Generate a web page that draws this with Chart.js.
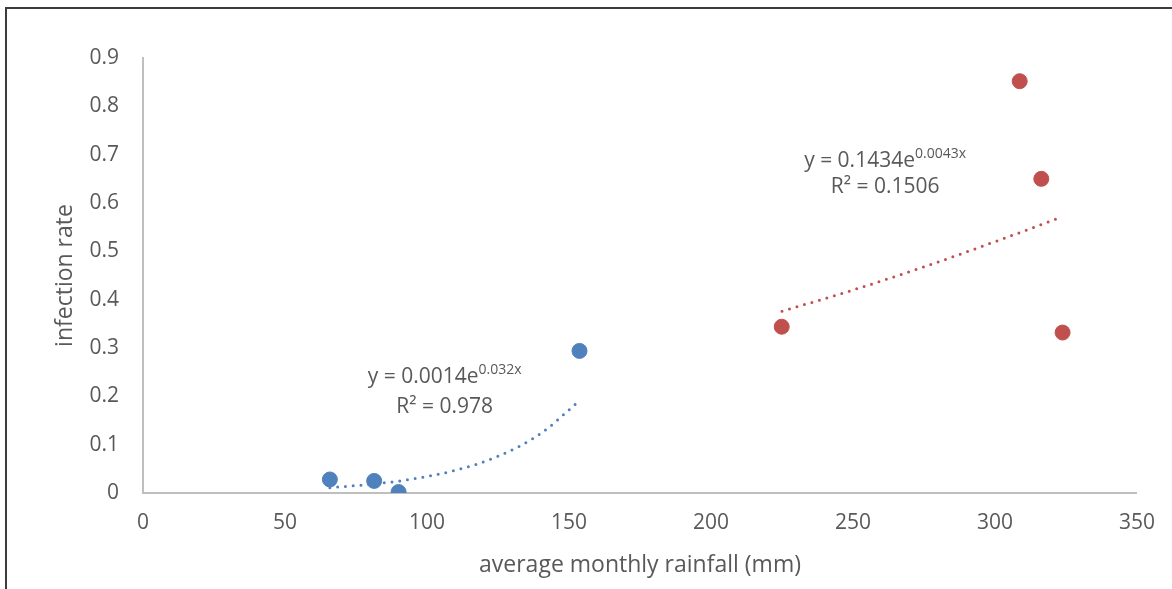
<!DOCTYPE html>
<html>
<head>
<meta charset="utf-8">
<script src="https://cdn.jsdelivr.net/npm/chart.js@4/dist/chart.umd.min.js"></script>
<style>
  html, body { margin: 0; padding: 0; background: #fff; overflow: hidden; }
  #wrap { position: relative; width: 1172px; height: 589px; }
  #frame {
    position: absolute; left: 5px; top: 7px; width: 1300px; height: 700px;
    border-left: 2px solid #3c3c3c; border-top: 2px solid #3c3c3c;
    pointer-events: none;
  }
</style>
</head>
<body>
<div id="wrap">
  <canvas id="rainChart" width="1172" height="589"></canvas>
  <div id="frame"></div>
</div>
<script>
// values
const blueRain = [65.8, 81.4, 90.0, 153.7];
const blueRate = [0.028, 0.025, 0.002, 0.294];
const redRain = [224.9, 308.7, 316.3, 323.8];
const redRate = [0.344, 0.852, 0.650, 0.332];

// dotted trendlines
const blueTrendX = [65.8, 80, 95, 110, 125, 140, 153.5];
const blueTrendY = [0.011, 0.018, 0.029, 0.047, 0.076, 0.123, 0.19];
const redTrendX = [225, 250, 275, 300, 322];
const redTrendY = [0.376, 0.42, 0.468, 0.52, 0.568];

// trendline labels
const blueFit = ['y = 0.0014e', '0.032x', 'R\u00b2 = 0.978'];
const redFit = ['y = 0.1434e', '0.0043x', 'R\u00b2 = 0.1506'];

const xTicks = [0, 50, 100, 150, 200, 250, 300, 350];
const yTicks = [0, 0.1, 0.2, 0.3, 0.4, 0.5, 0.6, 0.7, 0.8, 0.9];

const BLUE = '#4F81BD';
const RED = '#C0504D';
const TEXT = '#595959';

const toPoints = (xs, ys) => xs.map((x, i) => ({ x: x, y: ys[i] }));

Chart.defaults.font.family = '"Open Sans", "Noto Sans", sans-serif';
Chart.defaults.font.size = 21;
Chart.defaults.color = TEXT;

// draws the "y = a e^bx / R² = r" labels
const fitLabels = {
    id: 'fitLabels',
    afterDatasetsDraw(chart, args, opts) {
        const { ctx, scales: { x, y } } = chart;
        ctx.save();
        ctx.fillStyle = TEXT;
        ctx.textBaseline = 'middle';
        opts.items.forEach(item => {
            const cx = x.getPixelForValue(item.at[0]);
            const y1 = y.getPixelForValue(item.at[1]);
            const y2 = y.getPixelForValue(item.at[2]);
            ctx.font = '21px "Open Sans"';
            const wBase = ctx.measureText(item.text[0]).width;
            ctx.font = '14px "Open Sans"';
            const wSup = ctx.measureText(item.text[1]).width;
            const left = cx - (wBase + wSup) / 2;
            ctx.textAlign = 'left';
            ctx.font = '21px "Open Sans"';
            ctx.fillText(item.text[0], left, y1);
            ctx.font = '14px "Open Sans"';
            ctx.fillText(item.text[1], left + wBase, y1 - 7);
            ctx.font = '21px "Open Sans"';
            ctx.textAlign = 'center';
            ctx.fillText(item.text[2], cx, y2);
        });
        ctx.restore();
    }
};

const ctx = document.getElementById('rainChart').getContext('2d');
const chart = new Chart(ctx, {
    type: 'scatter',
    data: {
        datasets: [
            {
                label: 'low rainfall',
                data: toPoints(blueRain, blueRate),
                backgroundColor: BLUE,
                borderColor: BLUE,
                pointRadius: 7.5,
                order: 0
            },
            {
                label: 'high rainfall',
                data: toPoints(redRain, redRate),
                backgroundColor: RED,
                borderColor: RED,
                pointRadius: 7.5,
                order: 0
            },
            {
                label: 'Expon. (low rainfall)',
                data: toPoints(blueTrendX, blueTrendY),
                showLine: true,
                borderColor: BLUE,
                borderWidth: 3,
                borderDash: [0, 7.8],
                borderCapStyle: 'round',
                cubicInterpolationMode: 'monotone',
                pointRadius: 0,
                order: 1
            },
            {
                label: 'Expon. (high rainfall)',
                data: toPoints(redTrendX, redTrendY),
                showLine: true,
                borderColor: RED,
                borderWidth: 3,
                borderDash: [0, 7.8],
                borderCapStyle: 'round',
                cubicInterpolationMode: 'monotone',
                pointRadius: 0,
                order: 1
            }
        ]
    },
    options: {
        responsive: false,
        animation: false,
        layout: { padding: { left: 0, top: 58, right: 34, bottom: 0 } },
        plugins: {
            legend: { display: false },
            tooltip: { enabled: false },
            fitLabels: {
                items: [
                    { text: blueFit, at: [106.2, 0.24, 0.178] },
                    { text: redFit, at: [261.3, 0.687, 0.633] }
                ]
            }
        },
        scales: {
            x: {
                type: 'linear',
                min: 0,
                max: 350,
                afterBuildTicks: s => { s.ticks = xTicks.map(v => ({ value: v })); },
                afterFit: s => { s.height = 96; },
                ticks: { padding: 17, color: TEXT },
                grid: { display: false, drawTicks: false },
                border: { color: '#BFBFBF', width: 2 },
                title: {
                    display: true,
                    text: 'average monthly rainfall (mm)',
                    color: TEXT,
                    font: { size: 23 },
                    padding: { top: 0, bottom: 10 }
                }
            },
            y: {
                type: 'linear',
                min: 0,
                max: 0.9,
                afterBuildTicks: s => { s.ticks = yTicks.map(v => ({ value: v })); },
                afterFit: s => { s.width = 143; },
                ticks: {
                    padding: 24,
                    color: TEXT,
                    callback: v => (v === 0 ? '0' : v.toFixed(1))
                },
                grid: { display: false, drawTicks: false },
                border: { color: '#BFBFBF', width: 2 },
                title: {
                    display: true,
                    text: 'infection rate',
                    color: TEXT,
                    font: { size: 23 },
                    padding: { top: 52, bottom: 0 }
                }
            }
        }
    },
    plugins: [fitLabels]
});
</script>
</body>
</html>
